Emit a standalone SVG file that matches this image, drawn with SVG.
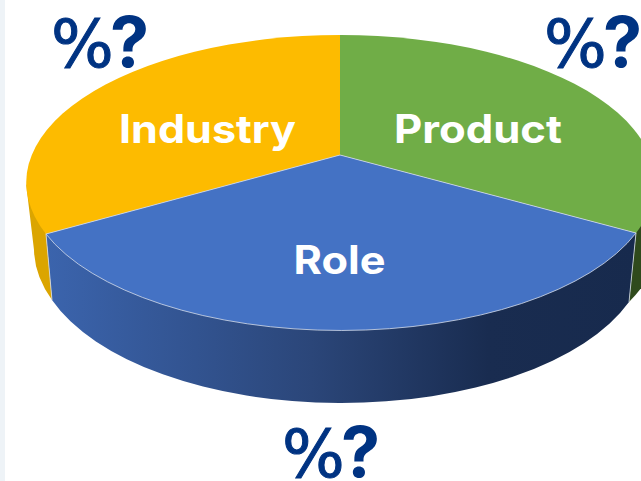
<svg xmlns="http://www.w3.org/2000/svg" width="641" height="481" viewBox="0 0 641 481">
<style>
.lbl{font-family:"Inter","Liberation Sans",sans-serif;font-weight:700;fill:#fff;font-size:39px;text-anchor:middle}
.pct{font-family:"DejaVu Sans",sans-serif;font-weight:400;fill:#003382;font-size:66px;stroke:#003382;stroke-width:1}
.q{font-family:"Inter","Liberation Sans",sans-serif;font-weight:700;fill:#003382;font-size:70px;stroke-width:0}
.edge{stroke:#d5dcea;stroke-width:1;stroke-opacity:.8}
</style>
<defs>
<linearGradient id="side" gradientUnits="userSpaceOnUse" x1="46" y1="0" x2="636" y2="0">
<stop offset="0" stop-color="#3b64ad"/><stop offset=".45" stop-color="#2b4679"/><stop offset=".75" stop-color="#192c50"/><stop offset="1" stop-color="#172a4d"/>
</linearGradient>
</defs>
<rect width="641" height="481" fill="#fff"/>
<rect width="5" height="481" fill="#eef3f7"/>
<g id="role-side">
<path d="M46 234 L52 300 A306 153 0 0 0 629 302 L636 233 Z" fill="url(#side)"/>
</g>
<g id="industry-side">
<path d="M26 183 L34 250 A306 153 0 0 0 52 300 L46 234 Z" fill="#dba500"/>
</g>
<g id="product-side">
<path d="M636 233 L629 302 A306 153 0 0 0 660 225 L654 183 Z" fill="#2f4a1c"/>
</g>
<g id="connectors">
<line class="edge" x1="46" y1="234" x2="52" y2="300"/>
<line class="edge" x1="636" y1="233" x2="629" y2="302"/>
</g>
<g id="industry">
<path d="M340 155 L340 35 A314 147.5 0 0 0 46 234 Z" fill="#fdbb00"/>
<text class="lbl" x="207.500" y="143" textLength="177" lengthAdjust="spacingAndGlyphs">Industry</text>
</g>
<g id="product">
<path d="M340 155 L340 35 A314 147.5 0 0 1 636 233 Z" fill="#70ad47"/>
<text class="lbl" x="478" y="143" textLength="168" lengthAdjust="spacingAndGlyphs">Product</text>
</g>
<g id="role">
<path d="M340 155 L46 234 A314 147.5 0 0 0 636 233 Z" fill="#4472c4" stroke="#d5dcea" stroke-opacity=".8" stroke-width="1"/>
<text class="lbl" x="339.500" y="274" textLength="92" lengthAdjust="spacingAndGlyphs">Role</text>
</g>
<g id="percent-industry"><text class="pct" x="51" y="67">%<tspan class="q" x="110">?</tspan></text></g>
<g id="percent-product"><text class="pct" x="544" y="67">%<tspan class="q" x="603">?</tspan></text></g>
<g id="percent-role"><text class="pct" x="282" y="477">%<tspan class="q" x="341">?</tspan></text></g>
</svg>
